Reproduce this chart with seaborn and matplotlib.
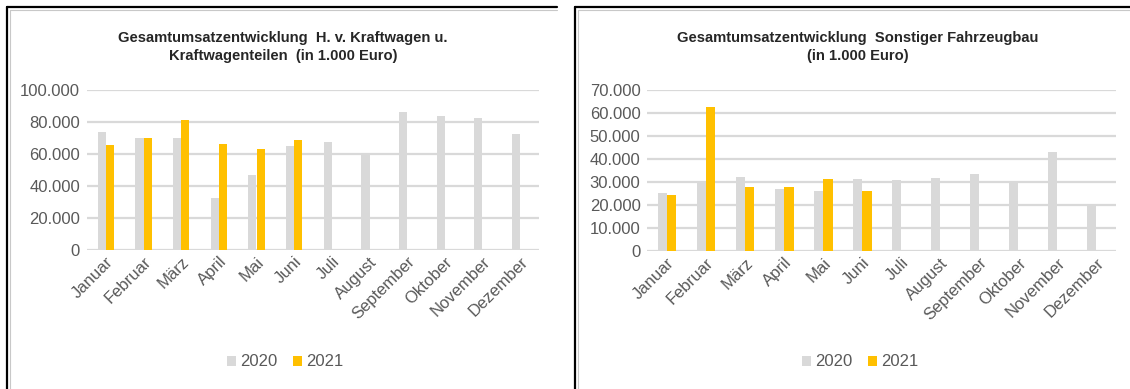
import matplotlib
matplotlib.use("Agg")
import matplotlib.pyplot as plt
from matplotlib.lines import Line2D
from matplotlib.patches import Patch
from matplotlib.ticker import FuncFormatter
import seaborn as sns
import pandas as pd
import numpy as np

months = ["Januar", "Februar", "März", "April", "Mai", "Juni", "Juli",
          "August", "September", "Oktober", "November", "Dezember"]

# Kraftwagen und Kraftwagenteile (in 1.000 Euro)
kfz_2020 = [73500, 69800, 70000, 32300, 46900, 65200, 67800, 59600, 86400, 83700, 82600, 72200]
kfz_2021 = [65400, 70000, 81300, 66000, 62900, 68500, np.nan, np.nan, np.nan, np.nan, np.nan, np.nan]

# Sonstiger Fahrzeugbau (in 1.000 Euro)
sfb_2020 = [25400, 30000, 32000, 27100, 25900, 31200, 30900, 31900, 33400, 29900, 43000, 19600]
sfb_2021 = [24500, 62500, 27700, 27700, 31200, 25900, np.nan, np.nan, np.nan, np.nan, np.nan, np.nan]

years = ["2020", "2021"]
titles = ["Gesamtumsatzentwicklung  H. v. Kraftwagen u.\nKraftwagenteilen  (in 1.000 Euro)",
          "Gesamtumsatzentwicklung  Sonstiger Fahrzeugbau\n(in 1.000 Euro)"]
y_max = [100000, 70000]
y_step = [20000, 10000]

GREY = "#D9D9D9"
GOLD = "#FFC000"
TEXT = "#595959"

sns.set_theme(style="white")
plt.rcParams["font.family"] = ["Liberation Sans", "DejaVu Sans"]

W, H = 1130, 389
fig = plt.figure(figsize=(W / 100, H / 100), dpi=100)


def px(x0, y0, x1, y1):
    return [x0 / W, 1 - y1 / H, (x1 - x0) / W, (y1 - y0) / H]


def thousands(v, _):
    return f"{int(round(v)):,}".replace(",", ".")


panels = [
    dict(data=(kfz_2020, kfz_2021), rect=px(87, 90, 539, 250), width=0.44,
         box=(7, 557), cx=283),
    dict(data=(sfb_2020, sfb_2021), rect=px(647.5, 90, 1116, 251), width=0.48,
         box=(575, 1130), cx=858),
]

for i, p in enumerate(panels):
    v20, v21 = p["data"]
    df = pd.DataFrame({
        "Monat": months * 2,
        "Jahr": [years[0]] * 12 + [years[1]] * 12,
        "Umsatz": list(v20) + list(v21),
    })
    ax = fig.add_axes(p["rect"])
    sns.barplot(data=df, x="Monat", y="Umsatz", hue="Jahr", order=months,
                hue_order=years, palette=[GREY, GOLD], width=p["width"],
                gap=0, saturation=1, errorbar=None, legend=False, ax=ax,
                linewidth=0)
    ax.set_xlim(-0.5, 11.5)
    ax.set_ylim(0, y_max[i])
    ax.set_yticks(np.arange(0, y_max[i] + 1, y_step[i]))
    ax.yaxis.set_major_formatter(FuncFormatter(thousands))
    ax.yaxis.grid(True, color=GREY, linewidth=1.6)
    ax.set_axisbelow(True)
    for s in ax.spines.values():
        s.set_visible(False)
    ax.set_xlabel("")
    ax.set_ylabel("")
    ax.tick_params(axis="y", labelsize=12, labelcolor=TEXT, length=0, pad=5)
    ax.tick_params(axis="x", labelsize=12, labelcolor=TEXT, length=0, pad=3)
    plt.setp(ax.get_xticklabels(), rotation=45, ha="right",
             rotation_mode="anchor")

    fig.text(p["cx"] / W, 1 - 47 / H, titles[i], ha="center", va="center",
             fontsize=10.6, fontweight="bold", color="#262626", linespacing=1.35)

    handles = [Patch(facecolor=GREY, edgecolor="none"),
               Patch(facecolor=GOLD, edgecolor="none")]
    fig.legend(handles, years, loc="center", ncol=2,
               bbox_to_anchor=(p["cx"] / W + 0.002, 1 - 362 / H), frameon=False,
               fontsize=12, labelcolor=TEXT, handlelength=0.55,
               handleheight=0.55, handletextpad=0.25, columnspacing=0.9)

    # panel frame (top and left edges) with a faint inner shadow
    x0, x1 = p["box"]
    fig.add_artist(Line2D([(x0 + 2.5) / W, (x0 + 2.5) / W], [1 - 9.5 / H, 0],
                          color="#C8C8C8", linewidth=0.8,
                          transform=fig.transFigure))
    fig.add_artist(Line2D([(x0 + 2.5) / W, x1 / W], [1 - 9.5 / H, 1 - 9.5 / H],
                          color="#C8C8C8", linewidth=0.8,
                          transform=fig.transFigure))
    fig.add_artist(Line2D([x0 / W, x0 / W], [1 - 7 / H, 0], color="black",
                          linewidth=1.6, transform=fig.transFigure))
    fig.add_artist(Line2D([x0 / W, x1 / W], [1 - 7 / H, 1 - 7 / H],
                          color="black", linewidth=1.6,
                          transform=fig.transFigure))

fig.savefig("out.png", dpi=100)
